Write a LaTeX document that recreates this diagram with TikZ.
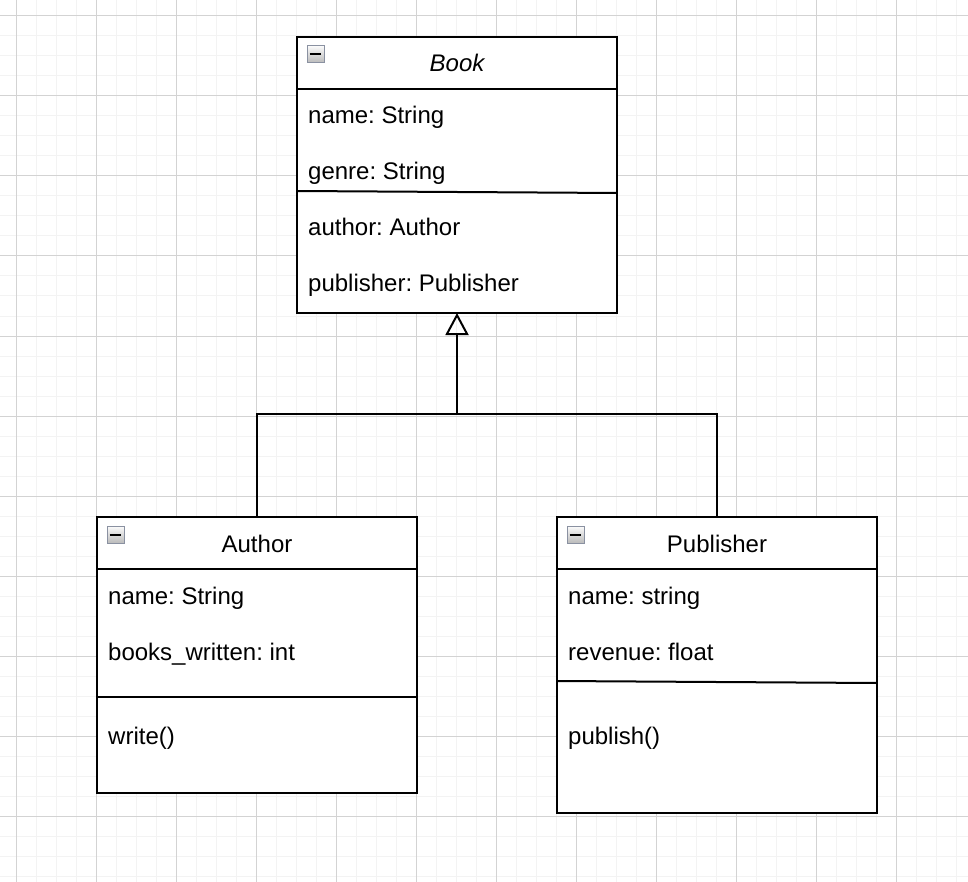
\documentclass[tikz,border=0pt]{standalone}
\usepackage{fontspec}
\setmainfont{Liberation Sans}
\usetikzlibrary{arrows.meta}
\frenchspacing
\definecolor{gridminor}{HTML}{F3F3F3}
\definecolor{gridmajor}{HTML}{D3D3D3}
\definecolor{iconborder}{HTML}{8A91A1}
\tikzset{
  classbox/.style={draw=black, line width=2pt, fill=white, anchor=north west, inner sep=0pt, outer sep=0pt},
  sepline/.style={draw=black, line width=2pt},
  title/.style={anchor=base, inner sep=0pt, font=\fontsize{24}{28}\selectfont},
  member/.style={anchor=base west, inner sep=0pt, font=\fontsize{24}{28}\selectfont},
  icon/.style={draw=iconborder, line width=1pt, top color=white!96!gray, bottom color=gray!55, anchor=north west, minimum width=17pt, minimum height=17pt, inner sep=0pt},
  minusbar/.style={draw=black, line width=2pt},
  conn/.style={draw=black, line width=2pt},
  gen/.style={conn, -{Triangle[open, length=22pt, width=23pt]}}
}
\begin{document}
\begin{tikzpicture}[x=1pt, y=-1pt]
\useasboundingbox (0,0) rectangle (968,882);
\fill[white] (0,0) rectangle (968,882);
% grid
\foreach \i in {16,36,...,956} \draw[gridminor, line width=1pt] (\i,0) -- (\i,882);
\foreach \j in {16,36,...,876} \draw[gridminor, line width=1pt] (0,\j) -- (968,\j);
\foreach \i in {16,96,...,956} \draw[gridmajor, line width=1pt] (\i,0) -- (\i,882);
\foreach \j in {16,96,...,876} \draw[gridmajor, line width=1pt] (0,\j) -- (968,\j);

% Book
\node[classbox, minimum width=320pt, minimum height=276pt] (book) at (297,37) {};
\draw[sepline] (297,89) -- (617,89);
\draw[sepline] (297,191) -- (617,193);
\node[icon] (bookicon) at (306.5,45.5) {};
\draw[minusbar] (309.5,54) -- (320.5,54);
\node[title, font=\fontsize{24}{28}\selectfont\itshape] (booktitle) at (457,72) {Book};
\node[member] (bookname) at (308,124) {name: String};
\node[member] (bookgenre) at (308,180) {genre: String};
\node[member] (bookauthor) at (308,236) {author: Author};
\node[member] (bookpub) at (308,292) {publisher: Publisher};

% Author
\node[classbox, minimum width=320pt, minimum height=276pt] (author) at (97,517) {};
\draw[sepline] (97,569) -- (417,569);
\draw[sepline] (97,697) -- (417,697);
\node[icon] (authoricon) at (106.5,526) {};
\draw[minusbar] (109.5,534.5) -- (120.5,534.5);
\node[title] (authortitle) at (257,552) {Author};
\node[member] (authorname) at (108,604) {name: String};
\node[member] (authorbooks) at (108,660) {books\_written: int};
\node[member] (authorwrite) at (108,744) {write()};

% Publisher
\node[classbox, minimum width=320pt, minimum height=296pt] (publisher) at (557,517) {};
\draw[sepline] (557,569) -- (877,569);
\draw[sepline] (557,681) -- (877,683);
\node[icon] (pubicon) at (566.5,526) {};
\draw[minusbar] (569.5,534.5) -- (580.5,534.5);
\node[title] (pubtitle) at (717,552) {Publisher};
\node[member] (pubname) at (568,604) {name: string};
\node[member] (pubrev) at (568,660) {revenue: float};
\node[member] (pubpublish) at (568,744) {publish()};

% connectors
\coordinate (join) at (457,414);
\draw[gen] (author.north) |- (join) -- (book.south);
\draw[conn] (publisher.north) |- (join);
\end{tikzpicture}
\end{document}
